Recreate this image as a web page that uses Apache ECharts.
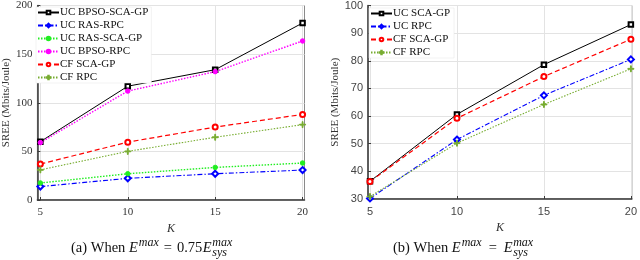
<!DOCTYPE html>
<html><head><meta charset="utf-8">
<script src="https://cdn.jsdelivr.net/npm/echarts@6/dist/echarts.min.js"></script>
<style>html,body{margin:0;padding:0;background:#fff}#c{width:640px;height:260px}</style>
</head><body><div id="c"></div>
<script>
// ---------- data ----------
const kValues = [5, 10, 15, 20];
const xTicks = [5, 10, 15, 20];

// (a) E^max = 0.75 E_sys^max
const aNames = ['UC BPSO-SCA-GP', 'UC RAS-RPC', 'UC RAS-SCA-GP', 'UC BPSO-RPC', 'CF SCA-GP', 'CF RPC'];
const aUcBpsoScaGp = [60, 117, 134, 182];
const aUcRasRpc    = [13.8, 22.3, 27, 30.8];
const aUcRasScaGp  = [17.5, 27, 33.5, 38];
const aUcBpsoRpc   = [59, 112, 132, 163.5];
const aCfScaGp     = [37, 59.5, 75, 88];
const aCfRpc       = [31, 50, 64.5, 77.5];
const aYTicks = [0, 50, 100, 150, 200];

// (b) E^max = E_sys^max
const bNames = ['UC SCA-GP', 'UC RPC', 'CF SCA-GP', 'CF RPC'];
const bUcScaGp = [36.4, 60.6, 78.6, 93.1];
const bUcRpc   = [30.2, 51.5, 67.5, 80.5];
const bCfScaGp = [36.3, 59.2, 74.3, 87.8];
const bCfRpc   = [30.9, 50.2, 64.2, 77.1];
const bYTicks = [30, 40, 50, 60, 70, 80, 90, 100];

// ---------- styles ----------
const SERIF = '"Liberation Serif","DejaVu Serif",serif';
const SANS = '"Liberation Sans","DejaVu Sans",sans-serif';
const PLUS = 'path://M4.3,0H5.7V4.3H10V5.7H5.7V10H4.3V5.7H0V4.3H4.3Z';
const styles = {
  'UC BPSO-SCA-GP': {color:'#000000', type:'solid', symbol:'emptyRect', size:4.5, w:1},
  'UC SCA-GP':      {color:'#000000', type:'solid', symbol:'emptyRect', size:4.5, w:1},
  'UC RAS-RPC':     {color:'#0000ff', type:[5,2,1.5,2], symbol:'emptyDiamond', size:6, w:1.1},
  'UC RPC':         {color:'#0000ff', type:[5,2,1.5,2], symbol:'emptyDiamond', size:6, w:1.1},
  'UC RAS-SCA-GP':  {color:'#22ee22', type:[1.5,1.5], symbol:'circle', size:4.5, w:1.4},
  'UC BPSO-RPC':    {color:'#ff00ff', type:[1.5,1.5], symbol:'circle', size:4.5, w:1.4},
  'CF SCA-GP':      {color:'#ff0000', type:[5,3], symbol:'emptyCircle', size:5, w:1.2},
  'CF RPC':         {color:'#77ac30', type:[1.5,1.5], symbol:PLUS, size:6, w:1.1}
};

function mkSeries(name, values, idx, label) {
  const s = styles[name];
  return {
    name: label || name, type: 'line', xAxisIndex: idx, yAxisIndex: idx,
    data: kValues.map((k, i) => [k, values[i]]),
    symbol: s.symbol, symbolSize: s.size,
    lineStyle: {color: s.color, width: s.w, type: s.type},
    itemStyle: {color: s.color, borderColor: s.color, borderWidth: 1},
    emphasis: {disabled: true}, animation: false, z: 5
  };
}

function xAxis(idx, min, max, font, color) {
  return {
    type: 'value', gridIndex: idx, min: min, max: max,
    axisLine: {show: true, onZero: false, lineStyle: {color: '#3a3a3a', width: 1.5}},
    axisTick: {show: true, inside: true, length: 3, customValues: xTicks, lineStyle: {color: '#3a3a3a'}},
    axisLabel: {customValues: xTicks, fontFamily: font, fontSize: 11, color: color, margin: 7},
    splitLine: {show: true, lineStyle: {color: '#e3e3e3', width: 1}},
    name: 'K', nameLocation: 'middle', nameGap: 10,
    nameTextStyle: {fontFamily: SERIF, fontStyle: 'italic', fontSize: 12, color: '#333'}
  };
}
function yAxis(idx, ticks, font, color, gap) {
  return {
    type: 'value', gridIndex: idx, min: ticks[0], max: ticks[ticks.length - 1],
    interval: ticks[1] - ticks[0],
    axisLine: {show: true, lineStyle: {color: '#3a3a3a', width: 1.5}},
    axisTick: {show: true, inside: true, length: 3, lineStyle: {color: '#3a3a3a'}},
    axisLabel: {fontFamily: font, fontSize: 11, color: color, margin: 5},
    splitLine: {show: true, lineStyle: {color: '#e3e3e3', width: 1}},
    name: 'SREE (Mbits/Joule)', nameLocation: 'middle', nameGap: gap,
    nameTextStyle: {fontFamily: SERIF, fontSize: 11, color: '#333'}
  };
}
function legend(names, left, top) {
  return {
    show: true, data: names.map(n => ({name: n})), orient: 'vertical', left: left, top: top,
    itemWidth: 21, itemHeight: 4.5, itemGap: 2, padding: [0, 3, 0, 1],
    backgroundColor: '#ffffff', borderColor: '#e4e4e4', borderWidth: 0.5,
    textStyle: {fontFamily: SERIF, fontSize: 11, color: '#111', lineHeight: 11, padding: [0, 0, 0, -4]},
    selectedMode: false, z: 10
  };
}

const bLegendNames = ['UC SCA-GP', 'UC RPC', 'CF SCA-GP ', 'CF RPC '];
const series = [
  mkSeries('UC BPSO-SCA-GP', aUcBpsoScaGp, 0),
  mkSeries('UC RAS-RPC', aUcRasRpc, 0),
  mkSeries('UC RAS-SCA-GP', aUcRasScaGp, 0),
  mkSeries('UC BPSO-RPC', aUcBpsoRpc, 0),
  mkSeries('CF SCA-GP', aCfScaGp, 0),
  mkSeries('CF RPC', aCfRpc, 0),
  mkSeries('UC SCA-GP', bUcScaGp, 1),
  mkSeries('UC RPC', bUcRpc, 1),
  mkSeries('CF SCA-GP', bCfScaGp, 1, bLegendNames[2]),
  mkSeries('CF RPC', bCfRpc, 1, bLegendNames[3])
];

// ---------- captions (measured so the stacked sub/superscript sits right) ----------
const ctx = document.createElement('canvas').getContext('2d');
function tw(font, s) { ctx.font = font; return ctx.measureText(s).width; }
const CAP = 14.5, SMALL = 12;
const fN = CAP + 'px ' + SERIF, fI = 'italic ' + CAP + 'px ' + SERIF, fS = 'italic ' + SMALL + 'px ' + SERIF;
function caption(prefix, coef, x, y, eqGap) {
  const g = [];
  let cx = x;
  const add = (txt, font, dy, gapAfter) => {
    g.push({type: 'text', x: cx, y: y + dy, style: {text: txt, font: font, fill: '#111', textVerticalAlign: 'middle'}});
    cx += tw(font, txt) + (gapAfter || 0);
  };
  add(prefix, fN, 0);
  add('E', fI, 0, 1);
  add('max', fS, -5, eqGap);
  add('=', fN, 0, eqGap);
  if (coef) add(coef, fN, 0, 0.5);
  add('E', fI, 0, 0.5);
  g.push({type: 'text', x: cx, y: y - 5, style: {text: 'max', font: fS, fill: '#111', textVerticalAlign: 'middle'}});
  g.push({type: 'text', x: cx, y: y + 4.5, style: {text: 'sys', font: fS, fill: '#111', textVerticalAlign: 'middle'}});
  return g;
}
const graphics = [].concat(
  caption('(a) When ', '0.75', 71, 248, 5),
  caption('(b) When ', '', 393, 248, 7)
);

const chart = echarts.init(document.getElementById('c'), null, {renderer: 'canvas'});
chart.setOption({
  animation: false,
  backgroundColor: '#ffffff',
  grid: [
    {left: 34, top: 5, width: 270.5, height: 195, show: true, borderColor: '#8a8a8a', borderWidth: 1, backgroundColor: 'transparent'},
    {left: 368, top: 5, width: 267, height: 194, show: true, borderColor: '#8a8a8a', borderWidth: 1, backgroundColor: 'transparent'}
  ],
  xAxis: [xAxis(0, 4.83, 20.11, SERIF, '#333'), xAxis(1, 4.886, 20.057, SANS, '#444')],
  yAxis: [yAxis(0, aYTicks, SERIF, '#333', 21), yAxis(1, bYTicks, SANS, '#444', 27)],
  legend: [legend(aNames, 36, 7), legend(bLegendNames, 369, 8)],
  graphic: graphics,
  series: series
});
</script></body></html>
